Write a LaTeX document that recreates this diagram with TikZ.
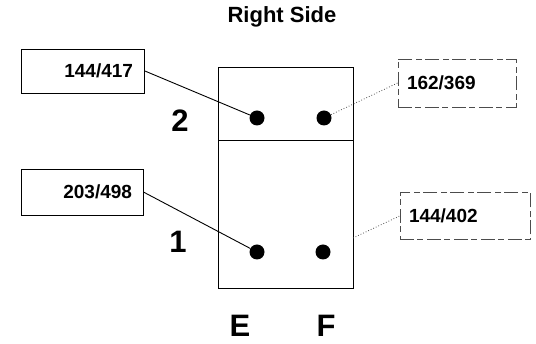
\documentclass[tikz,border=0pt]{standalone}
\usepackage{fontspec}
\setmainfont{Liberation Sans}
\usetikzlibrary{positioning}

\begin{document}
\begin{tikzpicture}[
    x=1pt, y=-1pt,
    tag/.style={rectangle, draw, line width=0.8pt, minimum width=122pt,
                minimum height=45pt, font=\fontsize{19}{19}\selectfont\bfseries},
    faint/.style={tag, draw=black!70, dash pattern=on 14pt off 3pt on 6pt off 4pt},
    pin/.style={circle, fill=black, inner sep=0pt, minimum size=15pt},
    wire/.style={line width=0.9pt},
    dotwire/.style={line width=0.8pt, black!70, dotted},
    big/.style={font=\fontsize{31}{31}\selectfont\bfseries}
  ]
    \useasboundingbox (0,0) rectangle (536,344);
    \node[font=\fontsize{22}{22}\selectfont\bfseries] (title) at (282,17) {Right Side};

    % the two cells
    \draw[line width=0.9pt] (218,67) rectangle (353,140);
    \draw[line width=0.9pt] (218,140) rectangle (353,288);

    \node[pin] (e2) at (257,118) {};
    \node[pin] (f2) at (324,118) {};
    \node[pin] (e1) at (257,252) {};
    \node[pin] (f1) at (323,252) {};

    \node[big] (row2) at (180,121) {2};
    \node[big] (row1) at (178,242) {1};
    \node[big] (colE) at (240,326) {E};
    \node[big] (colF) at (326,326) {F};

    \node[tag, minimum width=123pt, minimum height=44pt, align=right, text width=100pt] (t417) at (83,71) {144/417};
    \node[tag, minimum height=46pt, align=right, text width=100pt] (t498) at (82,192) {203/498};
    \node[faint, minimum width=118pt, minimum height=48pt, align=left, text width=100pt] (t369) at (457,83) {162/369};
    \node[faint, minimum width=130pt, minimum height=47pt, align=left, text width=112pt] (t402) at (465,216) {144/402};

    \coordinate (edge1) at (353,238);

    \draw[wire] (t417.east) -- (e2);
    \draw[wire] (t498.east) -- (e1);
    \draw[dotwire] (f2) -- (t369.west);
    \draw[dotwire] (edge1) -- (t402.west);
\end{tikzpicture}
\end{document}
